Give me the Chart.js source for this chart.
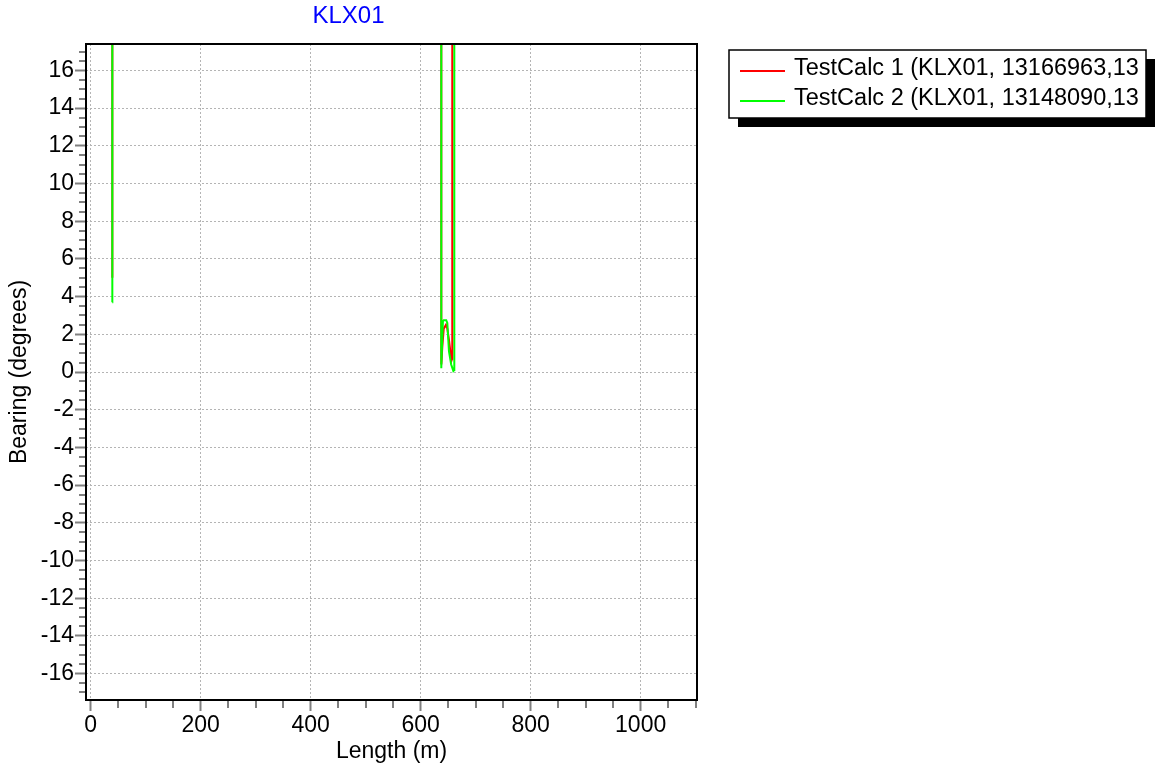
<!DOCTYPE html>
<html>
<head>
<meta charset="utf-8">
<title>KLX01</title>
<script src="https://cdn.jsdelivr.net/npm/chart.js@4.4.1/dist/chart.umd.min.js"></script>
<style>
  html, body { margin: 0; padding: 0; background: #fff; }
  #wrap { position: relative; width: 1174px; height: 774px; }
</style>
</head>
<body>
<div id="wrap"><canvas id="chart"></canvas></div>
<script>
// Values: length (m) vs bearing (degrees).
// Points above the visible range are clipped by the plot area.
const calc1Length  = [39.4, 39.4, 120, 260, 400, 520, 637.5, 637.6, 639.5, 642, 646, 648.5, 651.5, 656, 657.2, 657.5, 720, 860, 1000, 1085];
const calc1Bearing = [5.0, 62, 95, 140, 120, 88, 60, 0.4, 1.4, 2.3, 2.5, 2.3, 1.7, 0.6, 0.7, 58, 110, 160, 150, 130];

const calc2Length  = [39.3, 39.35, 39.4, 120, 260, 400, 520, 637.5, 637.5, 640.5, 642, 646.5, 648.5, 651.5, 655.5, 659.5, 661, 661.2, 720, 860, 1000, 1085];
const calc2Bearing = [3.7, 5.9, 64, 96, 142, 121, 90, 61, 0.2, 2.7, 2.75, 2.75, 2.6, 1.1, 0.4, 0.05, 0.1, 59, 112, 162, 151, 131];

const seriesLabels = ['TestCalc 1 (KLX01, 13166963,13', 'TestCalc 2 (KLX01, 13148090,13'];
const seriesColors = ['#ff0000', '#00ff00'];

const xMajorTicks = [0, 200, 400, 600, 800, 1000];
const yMajorTicks = [-16, -14, -12, -10, -8, -6, -4, -2, 0, 2, 4, 6, 8, 10, 12, 14, 16];

const FONT = '"Liberation Sans", Arial, sans-serif';
Chart.defaults.font.family = FONT;

function toPoints(xs, ys) {
    return xs.map((x, i) => ({ x: x, y: ys[i] }));
}

// tick positions (major + minor) for the axes
function steps(from, to, step) {
    const out = [];
    for (let i = 0; from + i * step <= to + 1e-9; i++) {
        out.push({ value: Math.round((from + i * step) * 100) / 100 });
    }
    return out;
}

function isMajor(ctx, list) {
    return ctx.tick && list.includes(ctx.tick.value);
}

// short minor tick marks and the black frame round the plot
const frameAndMinorTicks = {
    id: 'frameAndMinorTicks',
    afterDraw(chart) {
        const ctx = chart.ctx;
        const area = chart.chartArea;
        const xs = chart.scales.x;
        const ys = chart.scales.y;
        ctx.save();
        ctx.strokeStyle = '#808080';
        ctx.lineWidth = 2;
        ctx.beginPath();
        xs.ticks.forEach(t => {
            if (xMajorTicks.includes(t.value)) return;
            const px = Math.round(xs.getPixelForValue(t.value));
            ctx.moveTo(px, area.bottom);
            ctx.lineTo(px, area.bottom + 8);
        });
        ys.ticks.forEach(t => {
            if (yMajorTicks.includes(t.value)) return;
            const py = Math.round(ys.getPixelForValue(t.value));
            ctx.moveTo(area.left - 7, py);
            ctx.lineTo(area.left, py);
        });
        ctx.stroke();
        ctx.strokeStyle = '#000';
        ctx.lineWidth = 2;
        ctx.strokeRect(area.left, area.top, area.right - area.left, area.bottom - area.top);
        ctx.restore();
    }
};

// boxed legend with a drop shadow, to the right of the plot
const boxLegend = {
    id: 'boxLegend',
    afterDraw(chart) {
        const ctx = chart.ctx;
        const x = 729, y = 50, w = 417, h = 68, shadow = 9;
        ctx.save();
        ctx.fillStyle = '#000';
        ctx.fillRect(x + shadow, y + shadow, w, h);
        ctx.fillStyle = '#fff';
        ctx.fillRect(x, y, w, h);
        ctx.strokeStyle = '#000';
        ctx.lineWidth = 1.5;
        ctx.strokeRect(x, y, w, h);
        ctx.font = '23.5px ' + FONT;
        ctx.textBaseline = 'middle';
        ctx.textAlign = 'left';
        chart.data.datasets.forEach((ds, i) => {
            const rowY = y + 21 + i * 30;
            ctx.strokeStyle = ds.borderColor;
            ctx.lineWidth = 2;
            ctx.beginPath();
            ctx.moveTo(x + 11, rowY);
            ctx.lineTo(x + 56, rowY);
            ctx.stroke();
            ctx.fillStyle = '#000';
            ctx.fillText(ds.label, x + 65, rowY - 2);
        });
        ctx.restore();
    }
};

new Chart(document.getElementById('chart'), {
    type: 'scatter',
    data: {
        datasets: [{
            label: seriesLabels[0],
            data: toPoints(calc1Length, calc1Bearing),
            borderColor: seriesColors[0],
            backgroundColor: seriesColors[0],
            showLine: true,
            borderWidth: 2,
            pointRadius: 0,
            pointHoverRadius: 0,
            tension: 0,
            order: 2
        }, {
            label: seriesLabels[1],
            data: toPoints(calc2Length, calc2Bearing),
            borderColor: seriesColors[1],
            backgroundColor: seriesColors[1],
            showLine: true,
            borderWidth: 2,
            pointRadius: 0,
            pointHoverRadius: 0,
            tension: 0,
            order: 1
        }]
    },
    options: {
        responsive: true,
        maintainAspectRatio: false,
        animation: false,
        layout: { padding: { left: 0, right: 477, top: 0, bottom: 0 } },
        plugins: {
            legend: { display: false },
            tooltip: { enabled: false },
            title: {
                display: true,
                text: 'KLX01',
                color: '#0000ff',
                font: { size: 24, weight: 'normal' },
                padding: { top: 2, bottom: 13.2 }
            }
        },
        scales: {
            x: {
                type: 'linear',
                min: -8.5,
                max: 1102.5,
                ticks: {
                    stepSize: 50,
                    autoSkip: false,
                    maxRotation: 0,
                    padding: 1,
                    color: '#000',
                    font: { size: 23 },
                    callback: (v) => xMajorTicks.includes(v) ? String(v) : ''
                },
                grid: {
                    lineWidth: 1,
                    color: (ctx) => isMajor(ctx, xMajorTicks) ? '#b4b4b4' : 'rgba(0,0,0,0)',
                    tickColor: (ctx) => isMajor(ctx, xMajorTicks) ? '#808080' : 'rgba(0,0,0,0)',
                    tickWidth: 2,
                    tickLength: 11
                },
                border: { display: false, dash: [2, 2] },
                title: {
                    display: true,
                    text: 'Length (m)',
                    color: '#000',
                    font: { size: 23 },
                    padding: { top: 0, bottom: 9 }
                },
                afterBuildTicks: (scale) => { scale.ticks = steps(0, 1100, 50); },
                afterFit: (scale) => { scale.height = 74; }
            },
            y: {
                type: 'linear',
                min: -17.4,
                max: 17.4,
                ticks: {
                    stepSize: 0.5,
                    autoSkip: false,
                    padding: 1,
                    color: '#000',
                    font: { size: 23 },
                    callback: (v) => yMajorTicks.includes(v) ? String(v) : ''
                },
                grid: {
                    lineWidth: 1,
                    color: (ctx) => isMajor(ctx, yMajorTicks) ? '#b4b4b4' : 'rgba(0,0,0,0)',
                    tickColor: (ctx) => isMajor(ctx, yMajorTicks) ? '#808080' : 'rgba(0,0,0,0)',
                    tickWidth: 2,
                    tickLength: 11
                },
                border: { display: false, dash: [2, 2] },
                title: {
                    display: true,
                    text: 'Bearing (degrees)',
                    color: '#000',
                    font: { size: 23 },
                    padding: { top: 6, bottom: 0 }
                },
                afterBuildTicks: (scale) => { scale.ticks = steps(-17, 17, 0.5); },
                afterFit: (scale) => { scale.width = 86; }
            }
        }
    },
    plugins: [frameAndMinorTicks, boxLegend]
});
</script>
</body>
</html>
